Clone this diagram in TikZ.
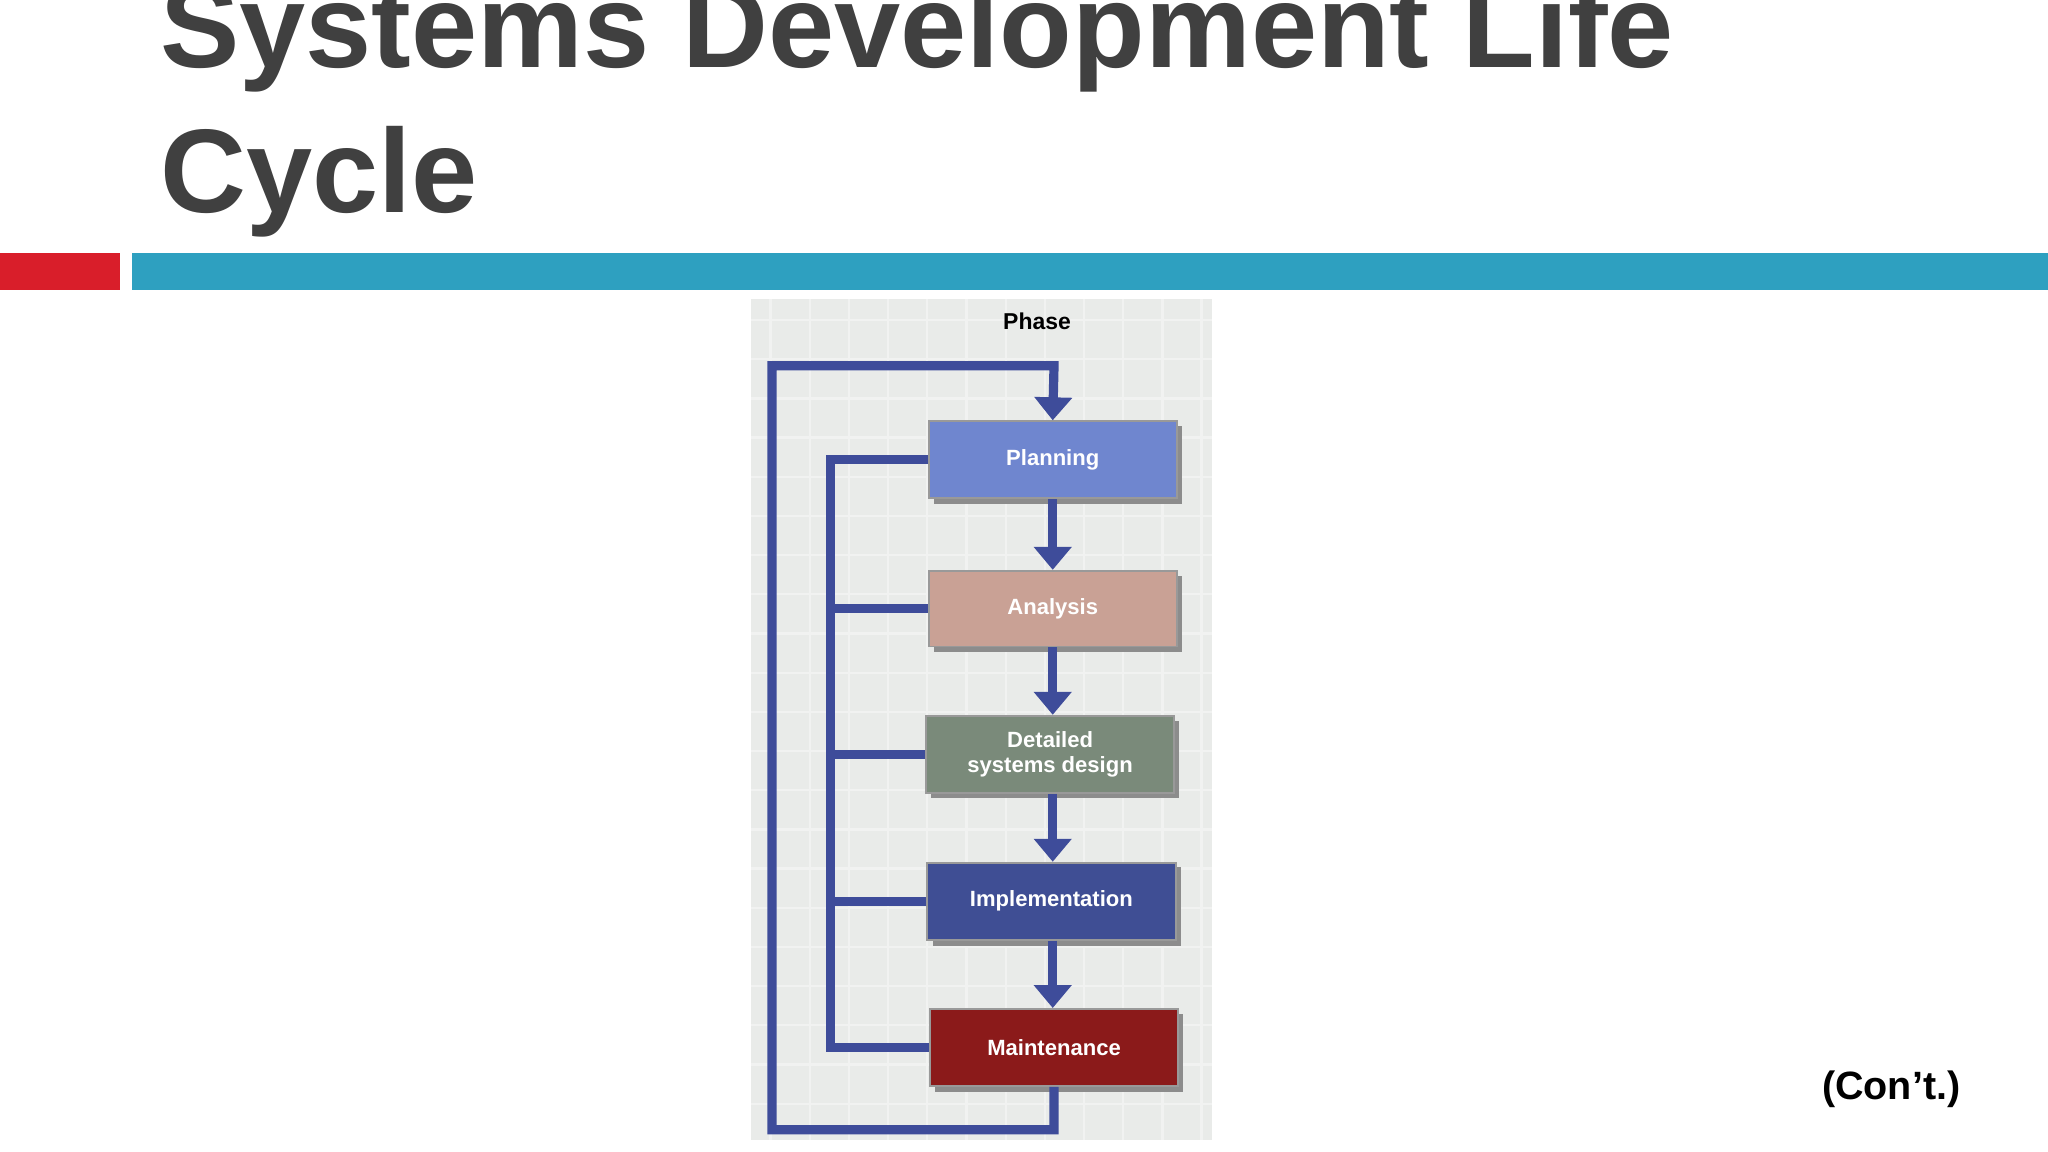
\documentclass[tikz,border=0pt]{standalone}
\usepackage{fontspec}
\setmainfont{Liberation Sans}
\usetikzlibrary{arrows.meta,calc}
\definecolor{titlegray}{HTML}{404040}
\definecolor{barred}{HTML}{D91E2A}
\definecolor{barblue}{HTML}{2EA0C0}
\definecolor{panel}{HTML}{E9EBE9}
\definecolor{gridc}{HTML}{F1F2F1}
\definecolor{flow}{HTML}{3E4C9A}
\definecolor{cplan}{HTML}{6F86CF}
\definecolor{cana}{HTML}{C9A195}
\definecolor{cdes}{HTML}{7A8A7A}
\definecolor{cimp}{HTML}{3F4E94}
\definecolor{cmain}{HTML}{8B1A1A}
\tikzset{
  phasebox/.style={draw=black!40,line width=0.4pt,minimum width=1.9cm,minimum height=0.59cm,
    text=white,font=\bfseries\fontsize{4.8}{5.6}\selectfont,align=center},
  flowline/.style={flow,line width=2pt},
  flowarrow/.style={flowline,-{Triangle[length=5pt,width=8pt]}},
}
\begin{document}
\begin{tikzpicture}[x=0.01cm,y=-0.01cm]
\useasboundingbox (0,0) rectangle (1568,882);
\fill[white] (0,0) rectangle (1568,882);
% title
\node[anchor=base west,text=titlegray,font=\bfseries\fontsize{25.9}{30}\selectfont,inner sep=0] (t1) at (122,52) {Systems Development Life};
\node[anchor=base west,text=titlegray,font=\bfseries\fontsize{25.9}{30}\selectfont,inner sep=0] (t2) at (122,163) {Cycle};
% bars
\fill[barred] (0,194) rectangle (92,222);
\fill[barblue] (101,194) rectangle (1568,222);
% panel
\fill[panel] (575,229) rectangle (928,873);
\foreach \x in {590,620,...,920} \draw[gridc,line width=0.5pt] (\x,229) -- (\x,873);
\foreach \y in {245,275,...,870} \draw[gridc,line width=0.5pt] (575,\y) -- (928,\y);
\node[font=\bfseries\fontsize{5}{6}\selectfont] (phase) at (794,246) {Phase};
% boxes with shadows
\foreach \a/\b/\c/\d in {711/322/901/382,711/437/901/495,709/548/899/607,710/660/900/720,712/772/902/832}
  \fill[black!45] (\a+4,\b+4) rectangle (\c+4,\d+4);
\node[phasebox,fill=cplan] (plan) at (806,352) {Planning};
\node[phasebox,fill=cana,minimum height=0.58cm] (ana) at (806,466) {Analysis};
\node[phasebox,fill=cdes] (des) at (804,577.5) {Detailed\\systems design};
\node[phasebox,fill=cimp] (imp) at (805,690) {Implementation};
\node[phasebox,fill=cmain] (main) at (807,802) {Maintenance};
% coordinates
\coordinate (bl) at (591,865);
\coordinate (tl) at (591,280);
\coordinate (tr) at (807,280);
\coordinate (it) at (636,352);
\coordinate (ib) at (636,802);
% outer loop
\draw[flowarrow,line join=miter] (main.south) |- (bl) -- (tl) -- (tr) -- (plan.north);
% inner return line
\draw[flowline] (plan.west) -- (it) -- (ib) -- (main.west);
\draw[flowline] (ana.west) -- (ana.west -| it);
\draw[flowline] (des.west) -- (des.west -| it);
\draw[flowline] (imp.west) -- (imp.west -| it);
% down arrows
\draw[flowarrow] (plan.south -| 806,0) -- (ana.north -| 806,0);
\draw[flowarrow] (ana.south -| 806,0) -- (des.north -| 806,0);
\draw[flowarrow] (des.south -| 806,0) -- (imp.north -| 806,0);
\draw[flowarrow] (imp.south -| 806,0) -- (main.north -| 806,0);
% con't
\node[font=\bfseries\fontsize{8.6}{10}\selectfont] (cont) at (1448,834) {(Con’t.)};
\end{tikzpicture}
\end{document}
